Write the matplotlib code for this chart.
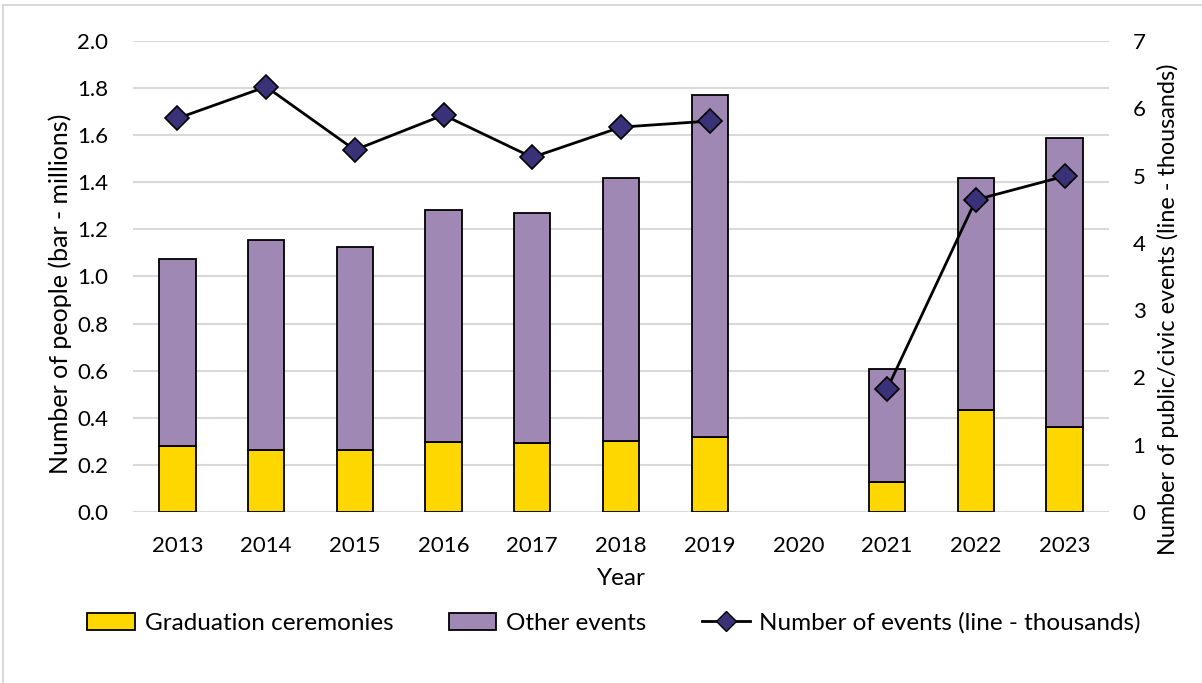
import numpy as np
import matplotlib
matplotlib.use("Agg")
import matplotlib.pyplot as plt
from matplotlib.patches import Patch, Rectangle
from matplotlib.lines import Line2D

plt.rcParams['font.family'] = ['Lato', 'DejaVu Sans']

years = ["2013", "2014", "2015", "2016", "2017", "2018", "2019", "2020", "2021", "2022", "2023"]
graduation = [0.28, 0.263, 0.263, 0.297, 0.293, 0.30, 0.318, 0.0, 0.127, 0.433, 0.361]
total_people = [1.074, 1.155, 1.125, 1.282, 1.27, 1.418, 1.77, 0.0, 0.607, 1.418, 1.588]
events = [5.85, 6.32, 5.38, 5.9, 5.27, 5.72, 5.81, np.nan, 1.83, 4.64, 4.99]

other = [t - g for t, g in zip(total_people, graduation)]

yellow = "#FFD700"
purple = "#A088B4"
navy = "#3A3278"
grid_col = "#D9D9D9"

fig = plt.figure(figsize=(12.02, 6.83), dpi=100)
ax = fig.add_axes([0.1107, 0.2504, 0.8119, 0.6896])
ax2 = ax.twinx()

x = np.arange(len(years))
# skip the empty year so no stub is drawn
has = [t > 0 for t in total_people]
xb = x[has]
gb = np.array(graduation)[has]
ob = np.array(other)[has]

ax.bar(xb, gb, width=0.41, color=yellow, edgecolor="black", linewidth=1.3, zorder=3)
ax.bar(xb, ob, bottom=gb, width=0.41, color=purple, edgecolor="black", linewidth=1.3, zorder=3)

ax2.plot(x, events, color="black", linewidth=2, marker="D", markersize=12,
         markerfacecolor=navy, markeredgecolor="black", markeredgewidth=1.2, zorder=4)

ax.set_xlim(-0.5, len(years) - 0.5)
ax.set_ylim(0, 2.0)
ax2.set_ylim(0, 7)
ax.set_yticks(np.arange(0, 2.01, 0.2))
ax.set_yticklabels([f"{v:.1f}" for v in np.arange(0, 2.01, 0.2)])
ax2.set_yticks(range(0, 8))
ax.set_xticks(x)
ax.set_xticklabels(years)

ax.yaxis.grid(True, color=grid_col, linewidth=1.5, zorder=0)
ax.set_axisbelow(True)
for a in (ax, ax2):
    for s in a.spines.values():
        s.set_visible(False)
    a.tick_params(length=0, labelsize=16)
ax.tick_params(axis="y", pad=18)
ax.tick_params(axis="x", pad=17)
ax2.tick_params(axis="y", pad=17)

ax.set_xlabel("Year", fontsize=17.5, labelpad=9)
ax.set_ylabel("Number of people (bar - millions)", fontsize=18)
ax2.set_ylabel("Number of public/civic events (line - thousands)", fontsize=16.8)
ax.yaxis.set_label_coords(-0.0625, 0.463)
ax2.yaxis.set_label_coords(1.049, 0.43)

handles = [
    Patch(facecolor=yellow, edgecolor="black", linewidth=1.3, label="Graduation ceremonies"),
    Patch(facecolor=purple, edgecolor="black", linewidth=1.3, label="Other events"),
    Line2D([0], [0], color="black", linewidth=2, marker="D", markersize=10,
           markerfacecolor=navy, markeredgecolor="black", label="Number of events (line - thousands)"),
]
fig.legend(handles=handles, loc="center", bbox_to_anchor=(0.511, 0.088), ncol=3,
           frameon=False, fontsize=17.5, handlelength=1.95, handletextpad=0.4, columnspacing=2.3)

# light outer frame of the chart box
fig.patches.append(Rectangle((3 / 1202, -0.01), 1.0, 1 - 5 / 683 + 0.01, transform=fig.transFigure,
                             fill=False, edgecolor="#D9D9D9", linewidth=1.5))

fig.savefig("out.png", dpi=100)
